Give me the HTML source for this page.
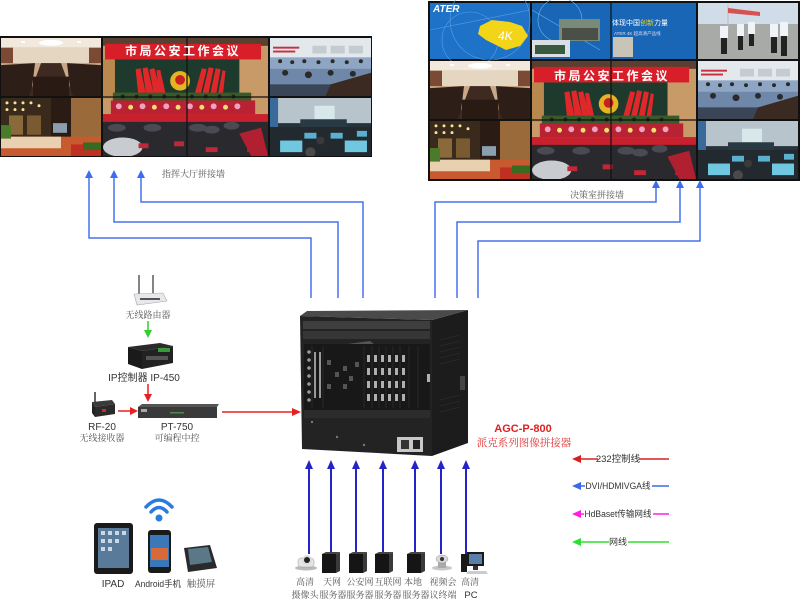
<!DOCTYPE html>
<html><head><meta charset="utf-8"><style>
html,body{margin:0;padding:0;background:#fff;}
svg{display:block;}
.s{font-family:"Liberation Serif","Noto Serif CJK SC",serif;fill:#555;}
.a{font-family:"Liberation Sans","Noto Sans CJK SC",sans-serif;fill:#333;}
</style></head><body>
<svg width="800" height="599" viewBox="0 0 800 599" xmlns="http://www.w3.org/2000/svg">
<defs>
<symbol id="conf" viewBox="0 0 100 60" preserveAspectRatio="none">
<rect width="100" height="60" fill="#b89a78"/>
<rect width="100" height="10" fill="#f2e8dc"/>
<ellipse cx="50" cy="5" rx="12" ry="3" fill="#fff"/>
<rect x="20" y="3" width="4" height="2" fill="#fff"/><rect x="76" y="3" width="4" height="2" fill="#fff"/>
<rect y="10" width="100" height="16" fill="#e4d6c0"/>
<rect x="0" y="10" width="12" height="28" fill="#7a4a34"/>
<rect x="88" y="10" width="12" height="28" fill="#7a4a34"/>
<rect x="0" y="26" width="100" height="34" fill="#c8a888"/>
<polygon points="0,28 34,26 30,60 0,60" fill="#2e1e18"/>
<polygon points="66,26 100,28 100,60 70,60" fill="#2e1e18"/>
<polygon points="40,26 60,26 72,60 28,60" fill="#3e2a20"/>
<rect x="32" y="40" width="36" height="20" fill="#2a1a14"/>
</symbol>
<symbol id="police" viewBox="0 0 100 60" preserveAspectRatio="none">
<rect width="100" height="60" fill="#5a6a80"/>
<rect width="100" height="22" fill="#e2e8ec"/>
<rect x="42" y="8" width="14" height="8" fill="#c4ccd2"/><rect x="60" y="8" width="14" height="8" fill="#c4ccd2"/><rect x="78" y="8" width="14" height="8" fill="#c4ccd2"/>
<rect x="3" y="9" width="26" height="2" fill="#c83040"/><rect x="3" y="13" width="22" height="2" fill="#c83040"/>
<rect y="20" width="100" height="12" fill="#8ea6c4"/>
<rect y="32" width="100" height="16" fill="#6f88aa"/>
<rect y="48" width="100" height="12" fill="#3a4658"/>
<g fill="#2a2a2a"><circle cx="10" cy="24" r="2"/><circle cx="22" cy="25" r="2"/><circle cx="34" cy="24" r="2"/><circle cx="48" cy="25" r="2"/><circle cx="62" cy="24" r="2"/><circle cx="76" cy="25" r="2"/><circle cx="90" cy="24" r="2"/><circle cx="15" cy="36" r="3"/><circle cx="38" cy="38" r="3.5"/><circle cx="60" cy="36" r="3"/><circle cx="82" cy="37" r="3"/></g>
<polygon points="60,48 100,36 100,60 55,60" fill="#3a2a22"/>
</symbol>
<symbol id="orange" viewBox="0 0 100 60" preserveAspectRatio="none">
<rect width="100" height="60" fill="#3a2a1c"/>
<rect x="70" y="0" width="30" height="48" fill="#9a6a3a"/>
<rect x="50" y="0" width="20" height="50" fill="#2a1c14"/>
<g fill="#f4e4a0"><circle cx="6" cy="5" r="1.5"/><circle cx="14" cy="5" r="1.5"/><circle cx="22" cy="5" r="1.5"/><circle cx="30" cy="5" r="1.5"/><circle cx="6" cy="12" r="1.5"/><circle cx="14" cy="12" r="1.5"/><circle cx="22" cy="12" r="1.5"/><circle cx="38" cy="8" r="1.5"/></g>
<rect x="8" y="18" width="14" height="20" fill="#8a6a3a"/><rect x="26" y="18" width="14" height="20" fill="#7a5a30"/>
<rect x="52" y="26" width="14" height="10" fill="#8aa0b0"/>
<rect y="40" width="100" height="20" fill="#c85a30"/>
<rect x="0" y="40" width="60" height="12" fill="#e8d0b0"/>
<rect x="0" y="28" width="10" height="14" fill="#4a7a2a"/>
<rect x="70" y="48" width="30" height="12" fill="#c03020"/>
<rect x="82" y="46" width="18" height="8" fill="#3a6a20"/>
</symbol>
<symbol id="class" viewBox="0 0 100 60" preserveAspectRatio="none">
<rect width="100" height="60" fill="#28323c"/>
<rect width="100" height="26" fill="#b8c4cc"/>
<rect x="0" y="0" width="8" height="60" fill="#3a6a9a"/>
<rect x="44" y="8" width="20" height="14" fill="#d8e8ea"/>
<rect x="30" y="22" width="46" height="8" fill="#2a3a44"/>
<rect y="30" width="100" height="30" fill="#222a30"/>
<rect x="10" y="44" width="22" height="12" fill="#70c8e0"/><rect x="74" y="44" width="22" height="12" fill="#70c8e0"/>
<rect x="34" y="36" width="12" height="6" fill="#5ab0d0"/><rect x="60" y="36" width="12" height="6" fill="#5ab0d0"/><rect x="86" y="34" width="10" height="6" fill="#5ab0d0"/>
<circle cx="50" cy="44" r="4" fill="#3a3a3a"/><circle cx="40" cy="56" r="5" fill="#4a4a4a"/>
</symbol>
<symbol id="meet" viewBox="0 0 167 121" preserveAspectRatio="none">
<rect width="167" height="121" fill="#2c2626"/>
<rect width="167" height="8" fill="#5a4030"/>
<rect x="0" y="8" width="167" height="80" fill="#c89a68"/>
<rect x="2" y="6" width="158" height="16" fill="#d81e28"/>
<rect x="12" y="22" width="126" height="38" fill="#1e3a2c"/>
<rect x="0" y="22" width="12" height="40" fill="#b8884e"/>
<g fill="#e0282a"><polygon points="33,32 38,31 44,60 36,61"/><polygon points="40,31 45,30 52,60 44,61"/><polygon points="47,32 52,31 60,60 52,61"/><polygon points="54,33 58,33 64,60 58,61"/>
<polygon points="92,60 100,31 105,32 98,61"/><polygon points="100,60 107,30 112,31 106,61"/><polygon points="108,60 114,31 119,32 114,61"/><polygon points="116,60 121,33 124,34 121,61"/></g>
<circle cx="78" cy="44" r="10" fill="#e6b422"/><circle cx="78" cy="43" r="5" fill="#c82020"/>
<rect x="10" y="56" width="140" height="10" fill="#3a5a2a"/>
<g fill="#222"><circle cx="20" cy="60" r="2"/><circle cx="34" cy="60" r="2"/><circle cx="48" cy="60" r="2"/><circle cx="62" cy="60" r="2"/><circle cx="76" cy="60" r="2"/><circle cx="90" cy="60" r="2"/><circle cx="104" cy="60" r="2"/><circle cx="118" cy="60" r="2"/><circle cx="132" cy="60" r="2"/></g>
<rect x="8" y="64" width="146" height="14" fill="#b82232"/>
<g fill="#f0a0c0"><circle cx="16" cy="70" r="3"/><circle cx="40" cy="70" r="3"/><circle cx="64" cy="70" r="3"/><circle cx="88" cy="70" r="3"/><circle cx="112" cy="70" r="3"/><circle cx="136" cy="70" r="3"/></g>
<g fill="#f0e070"><circle cx="28" cy="71" r="2.5"/><circle cx="52" cy="71" r="2.5"/><circle cx="76" cy="71" r="2.5"/><circle cx="100" cy="71" r="2.5"/><circle cx="124" cy="71" r="2.5"/></g>
<rect x="0" y="78" width="167" height="12" fill="#c8202c"/>
<rect x="0" y="86" width="167" height="35" fill="#2a2a2e"/>
<g fill="#4a4a52"><ellipse cx="14" cy="92" rx="9" ry="4"/><ellipse cx="50" cy="92" rx="9" ry="4"/><ellipse cx="96" cy="92" rx="9" ry="4"/><ellipse cx="130" cy="90" rx="8" ry="4"/><ellipse cx="110" cy="94" rx="8" ry="4"/></g>
<ellipse cx="20" cy="112" rx="20" ry="10" fill="#c8ccd0"/>
<g fill="#c02838"><rect x="36" y="108" width="10" height="5"/><rect x="72" y="106" width="10" height="5"/><rect x="104" y="112" width="12" height="5"/><rect x="146" y="112" width="12" height="5"/></g>
<polygon points="138,98 160,92 167,121 150,121" fill="#b02030"/>
</symbol>
</defs>

<!-- LEFT WALL -->
<rect x="0" y="36" width="372" height="121" fill="#111"/>
<use href="#conf" x="1" y="38" width="100" height="58"/>
<use href="#meet" x="103" y="38" width="165" height="118"/>
<use href="#police" x="270" y="38" width="101" height="58"/>
<use href="#orange" x="1" y="98" width="100" height="58"/>
<use href="#class" x="270" y="98" width="101" height="58"/>
<line x1="187" y1="37" x2="187" y2="156" stroke="#111" stroke-width="1.2"/>
<line x1="103" y1="97" x2="268" y2="97" stroke="#111" stroke-width="1.2"/>
<text x="183" y="55" text-anchor="middle" font-family="Liberation Sans,Noto Sans CJK SC,sans-serif" font-size="12" font-weight="bold" fill="#fff" letter-spacing="2.5">市局公安工作会议</text>

<!-- RIGHT WALL -->
<rect x="428" y="1" width="372" height="180" fill="#111"/>
<rect x="430" y="3" width="100" height="56" fill="#1e72c8"/>
<g stroke="#5aa0e8" stroke-width="0.6" fill="none"><circle cx="470" cy="40" r="28"/><circle cx="490" cy="20" r="40"/><line x1="430" y1="30" x2="530" y2="10"/></g>
<polygon points="480,26 492,20 510,22 522,26 528,36 520,46 506,50 494,44 486,40 478,34" fill="#f2d418"/>
<text x="433" y="12" font-family="Liberation Sans,sans-serif" font-size="10" font-style="italic" font-weight="bold" fill="#fff">ATER</text>
<text x="498" y="40" font-family="Liberation Sans,sans-serif" font-size="12" font-style="italic" fill="#fff">4K</text>
<rect x="532" y="3" width="164" height="56" fill="#1a66b6"/>
<g stroke="#6ab0e8" stroke-width="0.6" fill="none"><circle cx="560" cy="20" r="22"/><line x1="532" y1="10" x2="600" y2="50"/></g>
<rect x="559" y="19" width="41" height="22" fill="#7a8a78"/>
<rect x="562" y="28" width="36" height="12" fill="#4a5048"/>
<rect x="532" y="40" width="38" height="17" fill="#dadfe4"/>
<rect x="535" y="45" width="30" height="9" fill="#3a5a40"/>
<rect x="613" y="37" width="20" height="20" fill="#c8c4b8"/>
<text x="612" y="25" font-family="Liberation Sans,Noto Sans CJK SC,sans-serif" font-size="7" fill="#fff">体现中国<tspan fill="#f2d418">创新</tspan>力量</text>
<text x="614" y="35" font-family="Liberation Sans,Noto Sans CJK SC,sans-serif" font-size="4.5" fill="#dde">ATER 4K 超高清产品线</text>
<line x1="611" y1="3" x2="611" y2="59" stroke="#111" stroke-width="1.2"/>
<rect x="698" y="3" width="100" height="56" fill="#d0dce8"/>
<rect x="698" y="24" width="100" height="35" fill="#a8aaa8"/>
<line x1="728" y1="4" x2="728" y2="30" stroke="#bbb" stroke-width="1"/>
<polygon points="728,8 760,12 760,16 728,13" fill="#d85050"/>
<g fill="#f0f4f8"><rect x="720" y="26" width="8" height="12"/><rect x="737" y="24" width="7" height="12"/><rect x="748" y="22" width="7" height="12"/><rect x="770" y="24" width="8" height="13"/><rect x="780" y="22" width="8" height="14"/></g>
<g fill="#222"><rect x="721" y="38" width="6" height="16"/><rect x="738" y="36" width="5" height="14"/><rect x="749" y="34" width="5" height="12"/><rect x="771" y="37" width="6" height="16"/><rect x="781" y="36" width="6" height="20"/></g>
<use href="#conf" x="430" y="61" width="100" height="58"/>
<use href="#meet" x="532" y="61" width="164" height="118"/>
<use href="#police" x="698" y="61" width="100" height="58"/>
<use href="#orange" x="430" y="121" width="100" height="58"/>
<use href="#class" x="698" y="121" width="100" height="58"/>
<line x1="611" y1="61" x2="611" y2="179" stroke="#111" stroke-width="1.2"/>
<line x1="532" y1="120" x2="696" y2="120" stroke="#111" stroke-width="1.2"/>
<text x="612" y="80" text-anchor="middle" font-family="Liberation Sans,Noto Sans CJK SC,sans-serif" font-size="12" font-weight="bold" fill="#fff" letter-spacing="2.5">市局公安工作会议</text>

<text x="162" y="177" class="s" font-size="9">指挥大厅拼接墙</text>
<text x="570" y="198" class="s" font-size="9">决策室拼接墙</text>

<g stroke="#4674ee" stroke-width="1.5" fill="none">
<polyline points="89,177 89,238 311,238 311,298"/>
<polyline points="114,177 114,222 338,222 338,298"/>
<polyline points="141,177 141,202 363,202 363,298"/>
<polyline points="435,298 435,202 656,202 656,188"/>
<polyline points="457,298 457,222 680,222 680,188"/>
<polyline points="478,298 478,241 700,241 700,188"/>
</g>
<g fill="#3e6cf0">
<polygon points="89,170 85,178 93,178"/><polygon points="114,170 110,178 118,178"/><polygon points="141,170 137,178 145,178"/>
<polygon points="656,180 652,188 660,188"/><polygon points="680,180 676,188 684,188"/><polygon points="700,180 696,188 704,188"/>
</g>

<!-- AGC device -->
<polygon points="432,320 468,310 468,443 432,456" fill="#1c1c1c"/>
<g stroke="#2a2a2a" stroke-width="0.8"><line x1="440" y1="340" x2="460" y2="335"/><line x1="440" y1="346" x2="460" y2="341"/><line x1="440" y1="352" x2="460" y2="347"/><line x1="440" y1="358" x2="460" y2="353"/><line x1="440" y1="364" x2="460" y2="359"/><line x1="440" y1="400" x2="460" y2="395"/><line x1="440" y1="406" x2="460" y2="401"/><line x1="440" y1="412" x2="460" y2="407"/></g>
<rect x="460" y="376" width="5" height="14" fill="#444"/>
<polygon points="300,316 307,311 468,310 432,320" fill="#4a4a4a"/>
<polygon points="300,316 432,320 432,456 302,449" fill="#232323"/>
<rect x="303" y="321" width="127" height="8" fill="#3e3e3e"/>
<rect x="303" y="331" width="127" height="8" fill="#363636"/>
<path d="M340 345 L370 341 L375 345 L345 349Z" fill="#555"/>
<rect x="304" y="344" width="126" height="66" fill="#181818"/>
<g fill="#9a9a9a">
<circle cx="309" cy="352" r="1.8"/><circle cx="309" cy="360" r="1.8"/><circle cx="309" cy="368" r="1.8"/><circle cx="309" cy="376" r="1.8"/><circle cx="309" cy="384" r="1.8"/><circle cx="309" cy="392" r="1.8"/><circle cx="309" cy="400" r="1.8"/>
<rect x="314" y="352" width="2" height="46"/><rect x="319" y="352" width="2" height="46"/>
</g>
<g fill="#555"><rect x="327" y="360" width="4" height="5"/><rect x="335" y="372" width="4" height="5"/><rect x="343" y="366" width="4" height="5"/><rect x="349" y="376" width="4" height="5"/><rect x="343" y="384" width="4" height="5"/><rect x="355" y="362" width="4" height="5"/><rect x="327" y="384" width="4" height="5"/></g>
<g fill="#b0b0b0">
<rect x="367" y="355" width="3" height="7"/><rect x="374" y="355" width="3" height="7"/><rect x="381" y="355" width="3" height="7"/><rect x="388" y="355" width="3" height="7"/><rect x="395" y="355" width="3" height="7"/><rect x="402" y="355" width="3" height="7"/>
<rect x="367" y="368" width="3" height="7"/><rect x="374" y="368" width="3" height="7"/><rect x="381" y="368" width="3" height="7"/><rect x="388" y="368" width="3" height="7"/><rect x="395" y="368" width="3" height="7"/><rect x="402" y="368" width="3" height="7"/>
<rect x="367" y="381" width="3" height="7"/><rect x="374" y="381" width="3" height="7"/><rect x="381" y="381" width="3" height="7"/><rect x="388" y="381" width="3" height="7"/><rect x="395" y="381" width="3" height="7"/><rect x="402" y="381" width="3" height="7"/>
<rect x="367" y="394" width="3" height="7"/><rect x="374" y="394" width="3" height="7"/><rect x="381" y="394" width="3" height="7"/><rect x="388" y="394" width="3" height="7"/><rect x="395" y="394" width="3" height="7"/><rect x="402" y="394" width="3" height="7"/>
<rect x="427" y="374" width="3" height="8"/>
</g>
<g stroke="#2e2e2e" stroke-width="0.8"><line x1="312" y1="346" x2="312" y2="408"/><line x1="323" y1="346" x2="323" y2="408"/><line x1="364" y1="346" x2="364" y2="408"/><line x1="372" y1="346" x2="372" y2="408"/><line x1="379" y1="346" x2="379" y2="408"/><line x1="386" y1="346" x2="386" y2="408"/><line x1="393" y1="346" x2="393" y2="408"/><line x1="400" y1="346" x2="400" y2="408"/><line x1="409" y1="346" x2="409" y2="408"/><line x1="418" y1="346" x2="418" y2="408"/></g>
<rect x="304" y="410" width="126" height="8" fill="#2c2c2c"/>
<g fill="#777"><circle cx="312" cy="422" r="1.2"/><circle cx="337" cy="437" r="1.2"/><circle cx="364" cy="445" r="1.2"/></g>
<rect x="397" y="437" width="26" height="15" fill="#c8c8c8"/>
<rect x="401" y="440" width="8" height="9" fill="#333"/><rect x="413" y="440" width="7" height="9" fill="#222"/>

<text x="523" y="432" text-anchor="middle" font-family="Liberation Sans,sans-serif" font-size="11" font-weight="bold" fill="#e02020">AGC-P-800</text>
<text x="524" y="446" text-anchor="middle" class="s" font-size="10.5" style="fill:#e03030">派克系列图像拼接器</text>

<!-- left control chain -->
<line x1="139" y1="275" x2="139" y2="294" stroke="#333" stroke-width="1.2"/>
<line x1="153" y1="275" x2="153" y2="294" stroke="#333" stroke-width="1.2"/>
<polygon points="134,294 163,293 167,301 137,305" fill="#e8e8ec" stroke="#aaa" stroke-width="0.6"/>
<rect x="140" y="298" width="20" height="2" fill="#555"/>
<text x="148" y="318" text-anchor="middle" class="s" font-size="9">无线路由器</text>
<line x1="148" y1="321" x2="148" y2="331" stroke="#30d030" stroke-width="1.5"/>
<polygon points="148,338 144,330 152,330" fill="#30d030"/>
<polygon points="128,347 160,343 173,346 142,351" fill="#2a2a2a"/>
<polygon points="128,347 142,351 142,369 128,364" fill="#1a1a1a"/>
<polygon points="142,351 173,346 173,363 142,369" fill="#222"/>
<rect x="158" y="348" width="12" height="4" fill="#3a9a3a"/>
<rect x="146" y="356" width="22" height="4" fill="#555"/>
<text x="144" y="381" text-anchor="middle" class="a" font-size="10">IP控制器 IP-450</text>
<line x1="148" y1="384" x2="148" y2="395" stroke="#e82020" stroke-width="1.5"/>
<polygon points="148,402 144,394 152,394" fill="#e82020"/>
<line x1="95" y1="392" x2="95" y2="402" stroke="#333" stroke-width="1.5"/>
<polygon points="92,402 112,400 115,404 95,407" fill="#3a3a3a"/>
<polygon points="92,402 95,407 95,417 92,413" fill="#222"/>
<polygon points="95,407 115,404 115,414 95,417" fill="#2a2a2a"/>
<rect x="102" y="409" width="4" height="3" fill="#c03030"/>
<line x1="118" y1="411" x2="131" y2="411" stroke="#e82020" stroke-width="1.5"/>
<polygon points="138,411 130,407 130,415" fill="#e82020"/>
<polygon points="138,407 142,404 219,404 217,407" fill="#555"/>
<rect x="138" y="407" width="79" height="11" fill="#3a3a3a"/>
<rect x="141" y="409" width="6" height="3" fill="#aaa"/>
<rect x="170" y="412" width="14" height="1.5" fill="#4a8a4a"/>
<text x="102" y="430" text-anchor="middle" class="a" font-size="10">RF-20</text>
<text x="102" y="441" text-anchor="middle" class="s" font-size="9">无线接收器</text>
<text x="177" y="430" text-anchor="middle" class="a" font-size="10">PT-750</text>
<text x="177" y="441" text-anchor="middle" class="s" font-size="9">可编程中控</text>
<line x1="222" y1="412" x2="293" y2="412" stroke="#e82020" stroke-width="1.5"/>
<polygon points="301,412 292,408 292,416" fill="#e82020"/>

<!-- bottom inputs -->
<g stroke="#2323c8" stroke-width="2">
<line x1="309" y1="467" x2="309" y2="554"/><line x1="331" y1="467" x2="331" y2="554"/><line x1="356" y1="467" x2="356" y2="554"/><line x1="383" y1="467" x2="383" y2="554"/><line x1="415" y1="467" x2="415" y2="554"/><line x1="441" y1="467" x2="441" y2="554"/><line x1="466" y1="467" x2="466" y2="554"/>
</g>
<g fill="#2323c8">
<polygon points="309,460 305,469 313,469"/><polygon points="331,460 327,469 335,469"/><polygon points="356,460 352,469 360,469"/><polygon points="383,460 379,469 387,469"/><polygon points="415,460 411,469 419,469"/><polygon points="441,460 437,469 445,469"/><polygon points="466,460 462,469 470,469"/>
</g>
<ellipse cx="306" cy="568" rx="11" ry="2.5" fill="#bbb"/>
<rect x="298" y="558" width="16" height="9" rx="3" fill="#e4e4e4" stroke="#999" stroke-width="0.5"/>
<circle cx="307" cy="560" r="5" fill="#ddd"/><circle cx="307" cy="560" r="3" fill="#222"/>
<g>
<rect x="322" y="554" width="14" height="19" fill="#151515"/><polygon points="336,554 340,552 340,571 336,573" fill="#3a3a3a"/><polygon points="322,554 326,552 340,552 336,554" fill="#444"/>
<rect x="349" y="554" width="14" height="19" fill="#151515"/><polygon points="363,554 367,552 367,571 363,573" fill="#3a3a3a"/><polygon points="349,554 353,552 367,552 363,554" fill="#444"/>
<rect x="375" y="554" width="14" height="19" fill="#151515"/><polygon points="389,554 393,552 393,571 389,573" fill="#3a3a3a"/><polygon points="375,554 379,552 393,552 389,554" fill="#444"/>
<rect x="407" y="554" width="14" height="19" fill="#151515"/><polygon points="421,554 425,552 425,571 421,573" fill="#3a3a3a"/><polygon points="407,554 411,552 425,552 421,554" fill="#444"/>
</g>
<ellipse cx="442" cy="568" rx="10" ry="2.5" fill="#c8c8c8"/>
<rect x="438" y="560" width="8" height="8" fill="#aaa"/>
<ellipse cx="442" cy="559" rx="6" ry="4" fill="#d8d8d8" stroke="#999" stroke-width="0.5"/><circle cx="442" cy="559" r="2" fill="#333"/>
<rect x="461" y="554" width="6" height="18" fill="#1a1a1a"/>
<rect x="467" y="552" width="17" height="14" fill="#1a1a1a"/>
<rect x="469" y="554" width="13" height="10" fill="#5a80a8"/>
<rect x="473" y="566" width="5" height="4" fill="#333"/>
<polygon points="468,571 486,571 488,574 466,574" fill="#ccc"/>
<g class="s" font-size="9" text-anchor="middle">
<text x="305" y="585">高清</text><text x="305" y="598">摄像头</text>
<text x="332" y="585">天网</text><text x="333" y="598">服务器</text>
<text x="360" y="585">公安网</text><text x="360" y="598">服务器</text>
<text x="388" y="585">互联网</text><text x="388" y="598">服务器</text>
<text x="413" y="585">本地</text><text x="416" y="598">服务器</text>
<text x="443" y="585">视频会</text><text x="443" y="598">议终端</text>
<text x="470" y="585">高清</text>
</g>
<text x="471" y="598" text-anchor="middle" class="a" font-size="9.5">PC</text>

<!-- legend -->
<line x1="578" y1="459" x2="669" y2="459" stroke="#d82020" stroke-width="1.5"/>
<polygon points="572,459 581,455 581,463" fill="#d82020"/>
<rect x="598" y="452" width="41" height="13" fill="#fff"/>
<text x="618" y="462" text-anchor="middle" class="a" font-size="9.5">232控制线</text>
<line x1="578" y1="486" x2="669" y2="486" stroke="#3a6ae8" stroke-width="1.5"/>
<polygon points="572,486 581,482 581,490" fill="#3a6ae8"/>
<rect x="585" y="479" width="67" height="13" fill="#fff"/>
<text x="618" y="489" text-anchor="middle" class="a" font-size="9" textLength="65" lengthAdjust="spacingAndGlyphs">DVI/HDMIVGA线</text>
<line x1="578" y1="514" x2="669" y2="514" stroke="#ff20e0" stroke-width="1.5"/>
<polygon points="572,514 581,510 581,518" fill="#ff20e0"/>
<rect x="584" y="507" width="69" height="13" fill="#fff"/>
<text x="618" y="517" text-anchor="middle" class="a" font-size="9" textLength="67" lengthAdjust="spacingAndGlyphs">HdBaset传输网线</text>
<line x1="578" y1="542" x2="669" y2="542" stroke="#30e030" stroke-width="1.5"/>
<polygon points="572,542 581,538 581,546" fill="#30e030"/>
<rect x="609" y="535" width="19" height="13" fill="#fff"/>
<text x="618" y="545" text-anchor="middle" class="a" font-size="9">网线</text>

<!-- mobile devices -->
<g fill="none" stroke="#2a7ae0" stroke-linecap="round">
<path d="M146 507 Q159 493 172 507" stroke-width="3.5"/>
<path d="M151 512 Q159 503 167 512" stroke-width="3.5"/>
</g>
<circle cx="159" cy="518" r="3.5" fill="#2a7ae0"/>
<rect x="94" y="523" width="39" height="51" rx="3" fill="#1a1a1a"/>
<rect x="98" y="528" width="31" height="40" fill="#5a7a9a"/>
<g fill="#c8d8e8"><rect x="101" y="531" width="4" height="4"/><rect x="108" y="531" width="4" height="4"/><rect x="115" y="531" width="4" height="4"/><rect x="122" y="531" width="4" height="4"/><rect x="101" y="539" width="4" height="4"/><rect x="108" y="539" width="4" height="4"/><rect x="115" y="539" width="4" height="4"/><rect x="101" y="547" width="4" height="4"/><rect x="108" y="547" width="4" height="4"/></g>
<rect x="148" y="530" width="23" height="43" rx="3" fill="#1a1a1a"/>
<rect x="150" y="535" width="19" height="32" fill="#3a78b8"/>
<rect x="151" y="548" width="17" height="12" fill="#d86a3a"/>
<polygon points="184,548 210,545 217,568 188,572" fill="#2a2a2a"/>
<polygon points="188,549 208,547 212,562 190,565" fill="#5a7888"/>
<text x="113" y="587" text-anchor="middle" class="a" font-size="10">IPAD</text>
<text x="158" y="587" text-anchor="middle" class="a" font-size="9" textLength="46" lengthAdjust="spacingAndGlyphs">Android手机</text>
<text x="201" y="587" text-anchor="middle" class="s" font-size="9.5">触摸屏</text>
</svg>
</body></html>
